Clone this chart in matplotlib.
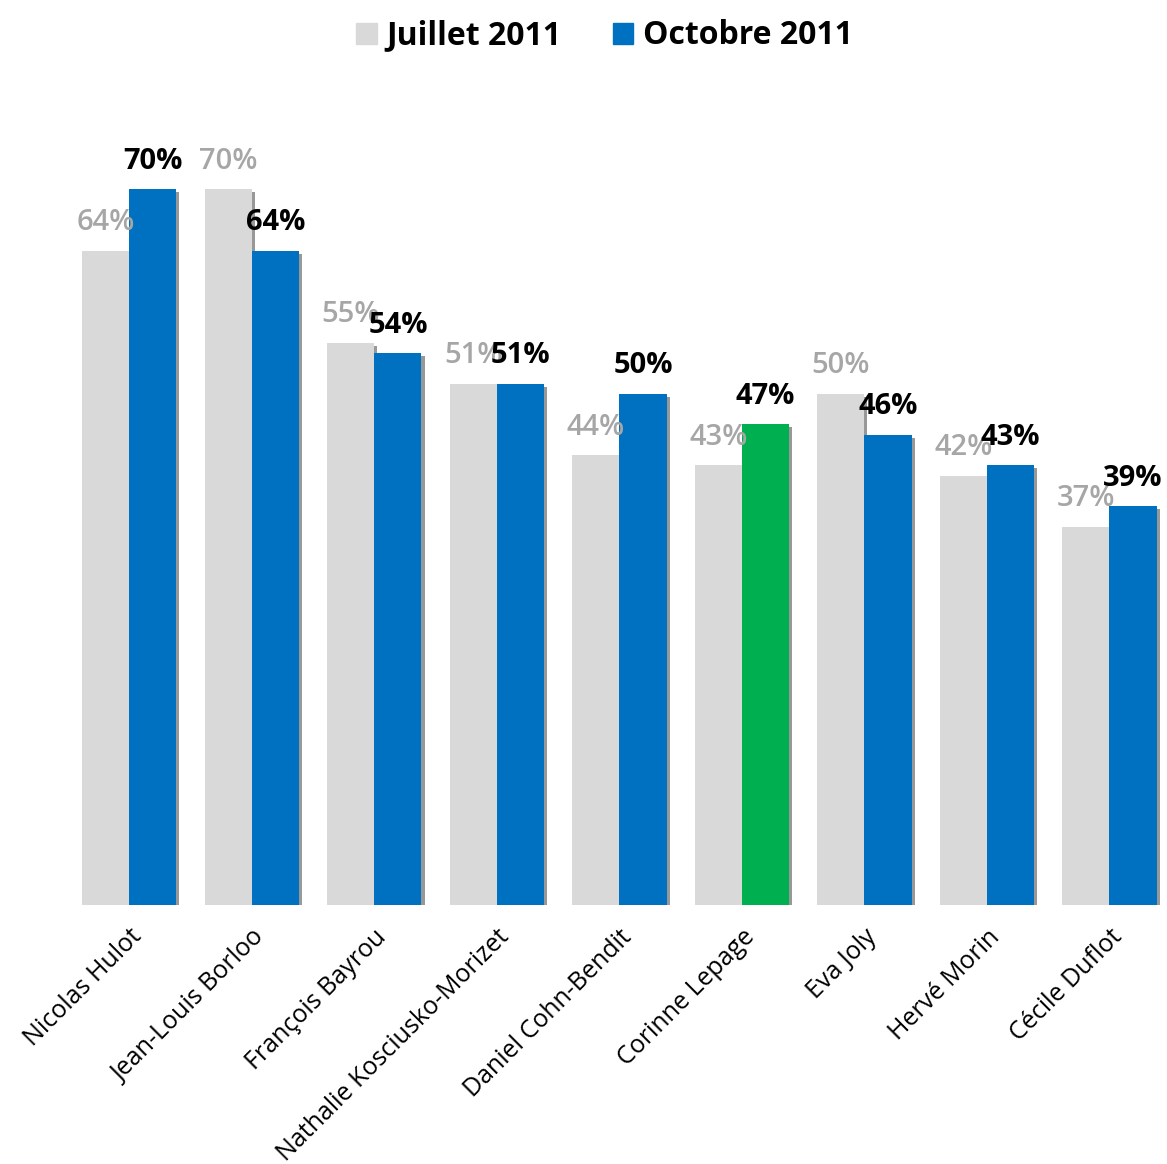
import matplotlib
matplotlib.use('Agg')
import matplotlib.pyplot as plt
import matplotlib.patheffects as pe
from matplotlib.patches import Patch
import numpy as np

plt.rcParams['font.family'] = ['Open Sans', 'DejaVu Sans']

# données
candidats = ["Nicolas Hulot", "Jean-Louis Borloo", "François Bayrou",
             "Nathalie Kosciusko-Morizet", "Daniel Cohn-Bendit", "Corinne Lepage",
             "Eva Joly", "Hervé Morin", "Cécile Duflot"]
juillet = [64, 70, 55, 51, 44, 43, 50, 42, 37]
octobre = [70, 64, 54, 51, 50, 47, 46, 43, 39]
series = ["Juillet 2011", "Octobre 2011"]

gris = '#d9d9d9'
bleu = '#0070c0'
vert = '#00b050'
couleurs_oct = [vert if c == "Corinne Lepage" else bleu for c in candidats]

fig = plt.figure(figsize=(11.67, 11.64), dpi=100)
ax = fig.add_axes([68 / 1167, 259 / 1164, 1 - 68 / 1167, 818 / 1164])

x = np.arange(len(candidats))
w = 0.385
ombre = [pe.SimplePatchShadow(offset=(2.2, -2.2), shadow_rgbFace='#7f7f7f', alpha=0.8), pe.Normal()]

b1 = ax.bar(x - w / 2, juillet, w, color=gris, zorder=2)
b2 = ax.bar(x + w / 2, octobre, w, color=couleurs_oct, zorder=3)
for b in list(b1) + list(b2):
    b.set_path_effects(ombre)

# étiquettes de valeurs (les chevauchements existent aussi dans l'original)
for xi, v in zip(x, juillet):
    ax.text(xi - w / 2, v + 1.3, f'{v}%', ha='center', va='bottom', fontsize=21,
            color='#a6a6a6', fontweight='semibold', zorder=4)
for xi, v in zip(x, octobre):
    ax.text(xi + w / 2, v + 1.3, f'{v}%', ha='center', va='bottom', fontsize=21,
            color='black', fontweight='bold', zorder=5)

ax.set_xlim(-0.5, 8.47)
ax.set_ylim(0, 80)
ax.set_xticks(x)
ax.set_xticklabels(candidats, rotation=45, ha='right', va='top',
                   rotation_mode='anchor', fontsize=18)
ax.tick_params(axis='x', length=0, pad=14)
ax.set_yticks([])
for s in ax.spines.values():
    s.set_visible(False)

poignees = [Patch(color=gris), Patch(color=bleu)]
fig.legend(poignees, series, loc='upper center', bbox_to_anchor=(0.518, 1.008),
           ncol=2, frameon=False, prop={'size': 23, 'weight': 'bold'},
           handlelength=0.65, handleheight=0.65, handletextpad=0.3, columnspacing=1.6)

fig.savefig('out.png', dpi=100)
